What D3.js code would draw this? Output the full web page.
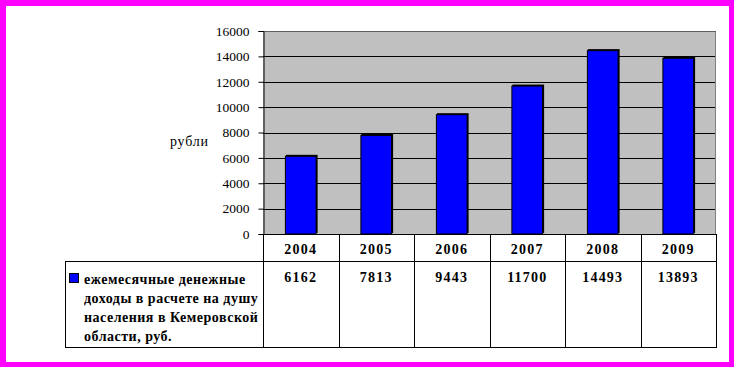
<!DOCTYPE html>
<html><head><meta charset="utf-8">
<script src="https://cdn.jsdelivr.net/npm/d3@7"></script>
<style>body{margin:0;background:#fff}svg{display:block}</style>
</head><body><svg id="c" width="734" height="367"></svg>
<script>
const years = ["2004", "2005", "2006", "2007", "2008", "2009"];
const incomes = [6162, 7813, 9443, 11700, 14493, 13893];
const yTicks = [0, 2000, 4000, 6000, 8000, 10000, 12000, 14000, 16000];
const axisTitle = "рубли";
const seriesLabel = ["ежемесячные денежные", "доходы в расчете на душу", "населения в Кемеровской", "области, руб."];

const svg = d3.select("#c");
const W = 734, H = 367;
const FONT = '"Liberation Serif", "Times New Roman", serif';

// frame
svg.append("rect").attr("width", W).attr("height", H).attr("fill", "#ff00ff");
svg.append("rect").attr("x", 6).attr("y", 6).attr("width", 723).attr("height", 356).attr("fill", "#fff");

const L = 263, R = 716, T = 31, B = 234;
const x = d3.scaleBand().domain(years).range([L, R]).paddingInner(0.58).paddingOuter(0.29);
const xc = d3.scaleBand().domain(years).range([L, R]);
const y = d3.scaleLinear().domain([0, 16000]).range([B, T]);

// plot area
svg.append("rect").attr("x", L).attr("y", T).attr("width", R - L).attr("height", B - T).attr("fill", "#c0c0c0");
svg.append("g").selectAll("line").data(yTicks.filter(d => d > 0)).join("line")
  .attr("x1", L).attr("x2", R).attr("y1", d => Math.round(y(d)) + 0.5).attr("y2", d => Math.round(y(d)) + 0.5)
  .attr("stroke", "#000").attr("stroke-width", 1);
svg.append("line").attr("x1", R - 0.5).attr("x2", R - 0.5).attr("y1", T).attr("y2", B).attr("stroke", "#808080");
svg.append("line").attr("x1", L).attr("x2", R).attr("y1", T + 0.5).attr("y2", T + 0.5).attr("stroke", "#606060");

// bars (shadow + bar)
svg.append("g").selectAll("rect").data(incomes).join("rect")
  .attr("x", (d, i) => x(years[i]) + 1).attr("y", d => y(d) - 1)
  .attr("width", x.bandwidth()).attr("height", d => B - y(d))
  .attr("fill", "#000");
svg.append("g").selectAll("rect").data(incomes).join("rect")
  .attr("x", (d, i) => x(years[i]) + 0.5).attr("y", d => y(d) + 0.5)
  .attr("width", x.bandwidth() - 1).attr("height", d => B - y(d) - 0.5)
  .attr("fill", "#0000ff").attr("stroke", "#000").attr("stroke-width", 1);

// y axis
const yAxis = d3.axisLeft(y).tickValues(yTicks).tickSize(5).tickPadding(9).tickFormat(d3.format("d"));
const ga = svg.append("g").attr("transform", `translate(${L + 0.5},0)`).call(yAxis);
ga.attr("font-family", null).attr("font-size", null);
ga.select(".domain").attr("stroke", "#000");
ga.selectAll(".tick line").attr("stroke", "#000");
ga.selectAll("text").style("font-family", FONT).style("font-size", "13.5px").attr("fill", "#000");

svg.append("text").attr("x", 170).attr("y", 146).style("font-family", FONT).style("font-size", "14px")
  .attr("letter-spacing", 0.8).text(axisTitle);

// data table
const rowTop = 261, rowBot = 347, tL = 65.5;
const tbl = svg.append("g").attr("stroke", "#000").attr("stroke-width", 1).attr("fill", "none");
tbl.append("line").attr("x1", tL).attr("x2", R + 0.5).attr("y1", rowTop + 0.5).attr("y2", rowTop + 0.5);
tbl.append("line").attr("x1", tL).attr("x2", R + 0.5).attr("y1", rowBot + 0.5).attr("y2", rowBot + 0.5);
tbl.append("line").attr("x1", L).attr("x2", R + 0.5).attr("y1", B + 0.5).attr("y2", B + 0.5);
tbl.append("line").attr("x1", tL).attr("x2", tL).attr("y1", rowTop).attr("y2", rowBot + 1);
tbl.selectAll("line.col").data(years.concat(["end"])).join("line").attr("class", "col")
  .attr("x1", (d, i) => Math.round(L + i * xc.bandwidth()) + 0.5)
  .attr("x2", (d, i) => Math.round(L + i * xc.bandwidth()) + 0.5)
  .attr("y1", B).attr("y2", rowBot + 1);

svg.append("g").selectAll("text").data(years).join("text")
  .attr("x", d => xc(d) + xc.bandwidth() / 2).attr("y", 254)
  .attr("text-anchor", "middle").style("font-family", FONT).style("font-weight", "bold").style("font-size", "14px")
  .attr("letter-spacing", 1.2).text(d => d);
svg.append("g").selectAll("text").data(incomes).join("text")
  .attr("x", (d, i) => xc(years[i]) + xc.bandwidth() / 2).attr("y", 282)
  .attr("text-anchor", "middle").style("font-family", FONT).style("font-weight", "bold").style("font-size", "14px")
  .attr("letter-spacing", 1.2).text(d => d);

// legend
svg.append("rect").attr("x", 69.5).attr("y", 273.5).attr("width", 9).attr("height", 9)
  .attr("fill", "#0000ff").attr("stroke", "#000");
svg.append("g").selectAll("text").data(seriesLabel).join("text")
  .attr("x", 84).attr("y", (d, i) => 284 + i * 19)
  .style("font-family", FONT).style("font-weight", "bold").style("font-size", "14px")
  .attr("letter-spacing", 0.5).text(d => d);
</script></body></html>
